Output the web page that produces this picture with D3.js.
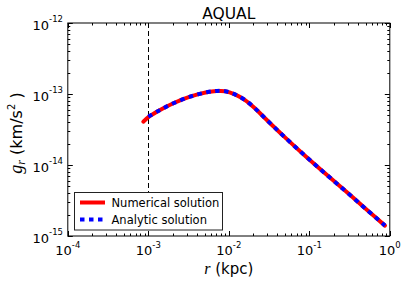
<!DOCTYPE html>
<html>
<head>
<meta charset="utf-8">
<script src="https://cdn.jsdelivr.net/npm/d3@7"></script>
<style>
  body { margin: 0; background: #fff; }
  text { font-family: "DejaVu Sans", sans-serif; fill: #000; }
</style>
</head>
<body>
<svg id="chart" width="409" height="285"></svg>
<script>
// values
const numR = [8.67e-4, 1.05e-3, 1.40e-3, 2.05e-3, 3.30e-3, 5.31e-3, 7.08e-3, 8.97e-3, 1.19e-2, 1.59e-2,
              2.11e-2, 2.82e-2, 3.75e-2, 4.99e-2, 8.85e-2, 0.158, 0.282, 0.501, 0.871];
const numG = [4.07e-14, 4.90e-14, 5.96e-14, 7.40e-14, 9.16e-14, 1.057e-13, 1.102e-13, 1.096e-13, 9.89e-14, 8.22e-14,
              6.30e-14, 4.55e-14, 3.33e-14, 2.45e-14, 1.35e-14, 7.57e-15, 4.29e-15, 2.42e-15, 1.40e-15];
const anaR = [1.0e-3, 1.40e-3, 2.05e-3, 3.30e-3, 5.31e-3, 7.08e-3, 8.97e-3, 1.19e-2, 1.59e-2,
              2.11e-2, 2.82e-2, 3.75e-2, 4.99e-2, 8.85e-2, 0.158, 0.282, 0.501, 0.871];
const anaG = [4.80e-14, 5.96e-14, 7.40e-14, 9.16e-14, 1.057e-13, 1.102e-13, 1.096e-13, 9.89e-14, 8.22e-14,
              6.30e-14, 4.55e-14, 3.33e-14, 2.45e-14, 1.35e-14, 7.57e-15, 4.29e-15, 2.42e-15, 1.40e-15];
const xTickExp = [-4, -3, -2, -1, 0];
const yTickExp = [-15, -14, -13, -12];
const rCut = 1e-3;
const legendLabels = ["Numerical solution", "Analytic solution"];

const svg = d3.select("#chart");
const m = {left: 67.8, right: 389.8, top: 23, bottom: 236};

const x = d3.scaleLog().domain([1e-4, 1]).range([m.left, m.right]);
const y = d3.scaleLog().domain([1e-15, 1e-12]).range([m.bottom, m.top]);

// minor tick values (2..9 in each decade)
function minors(lo, hi) {
  const out = [];
  for (let e = lo; e < hi; e++)
    for (let k = 2; k <= 9; k++) out.push(k * Math.pow(10, e));
  return out;
}
const xMinor = minors(-4, 0), yMinor = minors(-15, -12);
const xMajor = xTickExp.map(e => Math.pow(10, e));
const yMajor = yTickExp.map(e => Math.pow(10, e));

const ticks = svg.append("g").attr("stroke", "#000").attr("stroke-width", 1);
// ticks point inwards, on all four sides
function tickLines(vals, len, horiz) {
  vals.forEach(v => {
    if (horiz) {
      const px = Math.round(x(v)) + 0.5;
      ticks.append("line").attr("x1", px).attr("x2", px).attr("y1", m.bottom).attr("y2", m.bottom - len);
      ticks.append("line").attr("x1", px).attr("x2", px).attr("y1", m.top).attr("y2", m.top + len);
    } else {
      const py = Math.round(y(v)) + 0.5;
      ticks.append("line").attr("y1", py).attr("y2", py).attr("x1", m.left).attr("x2", m.left + len);
      ticks.append("line").attr("y1", py).attr("y2", py).attr("x1", m.right).attr("x2", m.right - len);
    }
  });
}
tickLines(xMajor, 5, true);
tickLines(xMinor, 2.5, true);
tickLines(yMajor, 5, false);
tickLines(yMinor, 2.5, false);

// vertical dashed line at r = 1e-3
svg.append("line")
  .attr("x1", Math.round(x(rCut)) + 0.5).attr("x2", Math.round(x(rCut)) + 0.5)
  .attr("y1", m.top).attr("y2", m.bottom)
  .attr("stroke", "#000").attr("stroke-width", 1)
  .attr("stroke-dasharray", "5,3");

const line = d3.line().x(d => x(d[0])).y(d => y(d[1])).curve(d3.curveCatmullRom.alpha(0.5));

svg.append("path")
  .datum(numR.map((r, i) => [r, numG[i]]))
  .attr("d", line).attr("fill", "none")
  .attr("stroke", "#ff0000").attr("stroke-width", 4).attr("stroke-linecap", "round");

svg.append("path")
  .datum(anaR.map((r, i) => [r, anaG[i]]))
  .attr("d", line).attr("fill", "none")
  .attr("stroke", "#0000ff").attr("stroke-width", 4)
  .attr("stroke-dasharray", "4.5,4.5");

// frame
svg.append("rect")
  .attr("x", m.left).attr("y", m.top)
  .attr("width", m.right - m.left).attr("height", m.bottom - m.top)
  .attr("fill", "none").attr("stroke", "#000").attr("stroke-width", 1);

// tick labels with superscripts
xTickExp.forEach(e => {
  const t = svg.append("text").attr("x", x(Math.pow(10, e))).attr("y", 254.5)
    .attr("text-anchor", "middle").attr("font-size", 13);
  t.append("tspan").text("10");
  t.append("tspan").attr("dy", -7).attr("font-size", 8.5).text(String(e));
});
yTickExp.forEach(e => {
  const t = svg.append("text").attr("x", 63).attr("y", y(Math.pow(10, e)) + 6.5)
    .attr("text-anchor", "end").attr("font-size", 13);
  t.append("tspan").text("10");
  t.append("tspan").attr("dy", -7.5).attr("font-size", 8.5).text(String(e));
});

// title
svg.append("text").attr("x", (m.left + m.right) / 2).attr("y", 18.5)
  .attr("text-anchor", "middle").attr("font-size", 15.5).text("AQUAL");

// x label
const xl = svg.append("text").attr("x", (m.left + m.right) / 2).attr("y", 274)
  .attr("text-anchor", "middle").attr("font-size", 15);
xl.append("tspan").attr("font-family", "Liberation Serif").attr("font-style", "italic").attr("font-size", 16).text("r");
xl.append("tspan").text(" (kpc)");

// y label
const yl = svg.append("text")
  .attr("transform", "translate(22,133) rotate(-90)")
  .attr("text-anchor", "middle").attr("font-size", 16);
yl.append("tspan").attr("font-family", "Liberation Serif").attr("font-style", "italic").attr("font-size", 18).text("g");
yl.append("tspan").attr("font-family", "Liberation Serif").attr("font-style", "italic").attr("font-size", 12).attr("dy", 3).text("r");
yl.append("tspan").attr("dy", -3).text(" (km/s");
yl.append("tspan").attr("dy", -7).attr("font-size", 10).text("2");
yl.append("tspan").attr("dy", 7).text(" )");

// legend
const lg = svg.append("g");
lg.append("rect").attr("x", 74.5).attr("y", 192.5).attr("width", 148).attr("height", 37.5)
  .attr("fill", "#fff").attr("stroke", "#222").attr("stroke-width", 1);
const styles = [
  {stroke: "#ff0000", dash: null},
  {stroke: "#0000ff", dash: "4.5,4.5"}
];
legendLabels.forEach((lab, i) => {
  const yy = 202.5 + i * 17;
  lg.append("line").attr("x1", 80).attr("x2", 105).attr("y1", yy).attr("y2", yy)
    .attr("stroke", styles[i].stroke).attr("stroke-width", 4)
    .attr("stroke-dasharray", styles[i].dash);
  lg.append("text").attr("x", 111.5).attr("y", yy + 4).attr("font-size", 11.5).text(lab);
});
</script>
</body>
</html>
